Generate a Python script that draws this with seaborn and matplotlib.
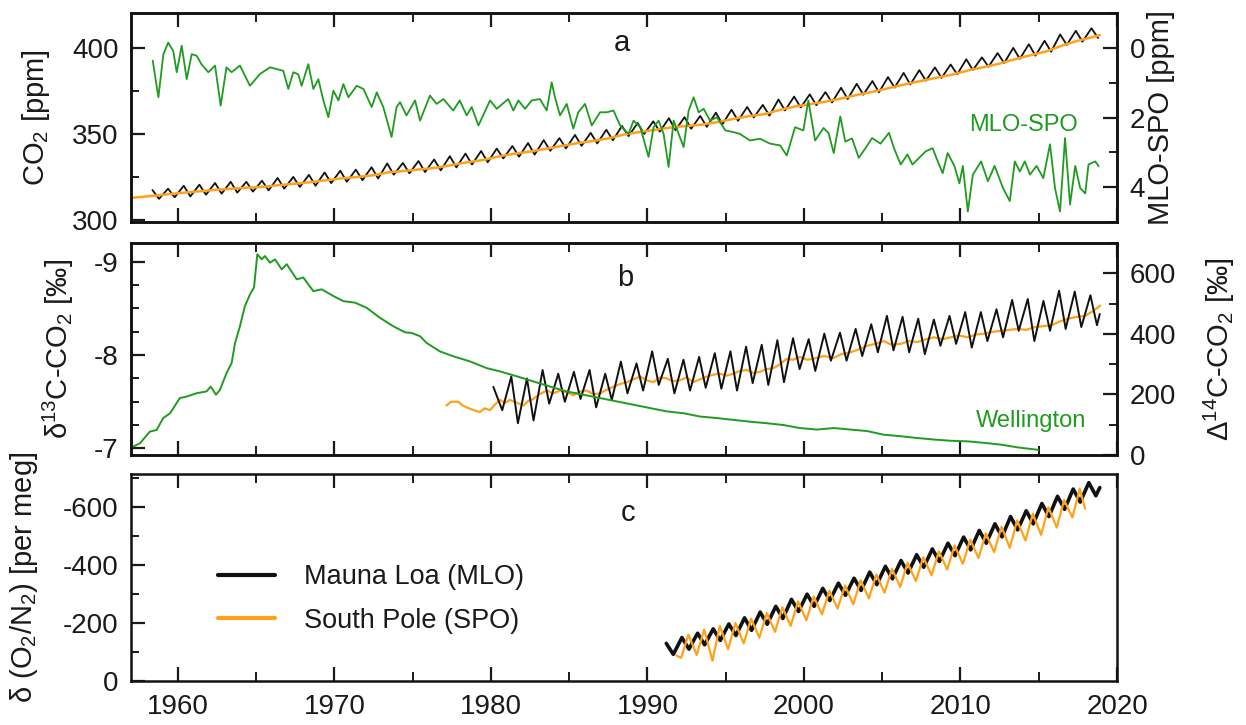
import numpy as np
import pandas as pd
import matplotlib
matplotlib.use("Agg")
import matplotlib.pyplot as plt
import seaborn as sns
from matplotlib.ticker import MultipleLocator
from matplotlib.lines import Line2D

# ---------------- DATA ----------------
# Panel a: Mauna Loa CO2, seasonal maxima (May) and minima (Oct), 1958-2018
mlo_co2_years = list(range(1958, 2019))
mlo_co2_may = [317.5, 318.3, 320.0, 320.6, 321.6, 322.3, 322.3, 322.9, 324.5, 325.1,
               326.3, 327.7, 328.7, 329.3, 330.7, 332.9, 333.2, 334.3, 335.2, 337.1,
               338.6, 340.1, 341.5, 343.0, 344.7, 346.4, 347.6, 349.4, 350.6, 352.4,
               354.6, 356.3, 357.3, 359.1, 359.7, 360.4, 362.3, 364.0, 365.6, 366.8,
               369.9, 371.6, 372.9, 374.2, 376.7, 379.0, 380.6, 382.9, 385.3, 386.9,
               388.5, 390.2, 393.2, 394.3, 396.8, 399.8, 401.9, 403.9, 407.6, 409.7, 411.2]
mlo_co2_oct = [312.4, 313.3, 313.8, 314.8, 315.4, 316.0, 316.6, 317.3, 318.3, 319.3,
               320.0, 321.5, 322.3, 323.2, 324.2, 326.4, 327.2, 327.9, 328.9, 330.6,
               332.3, 333.6, 335.8, 336.8, 338.0, 340.2, 341.6, 343.1, 344.5, 346.3,
               348.7, 350.0, 351.3, 352.2, 353.0, 354.1, 355.6, 357.6, 359.5, 360.6,
               363.6, 365.3, 366.6, 368.2, 370.2, 372.7, 374.1, 376.8, 378.6, 380.8,
               382.4, 384.5, 387.0, 388.9, 391.0, 393.5, 395.3, 397.6, 401.5, 403.4, 405.5]

# South Pole CO2, annual values 1957-2018 (plus record start / end)
spo_co2_years = list(range(1957, 2019))
spo_co2 = [313.4, 314.2, 315.2, 316.1, 316.9, 317.7, 318.3, 318.9, 319.4, 320.4,
           321.2, 322.1, 323.2, 324.3, 325.1, 326.1, 327.8, 328.6, 329.5, 330.4,
           332.0, 333.6, 334.9, 337.0, 338.5, 339.8, 341.3, 343.0, 344.6, 345.9,
           347.4, 349.6, 351.1, 352.4, 353.7, 354.6, 355.4, 356.9, 358.7, 360.3,
           361.5, 364.0, 366.0, 367.4, 368.9, 370.7, 372.8, 374.6, 376.7, 378.8,
           380.7, 382.6, 384.4, 386.8, 388.7, 390.7, 393.3, 395.6, 397.8, 401.2,
           403.9, 406.2]
spo_co2_start = (1957.05, 313.0)
spo_co2_end = (2018.9, 407.2)

# MLO-SPO difference [ppm]
mlo_spo_t = [1958.39, 1958.75, 1959.07, 1959.38, 1959.70, 1959.92, 1960.24, 1960.56, 1960.88, 1961.20,
             1961.50, 1961.94, 1962.37, 1962.73, 1963.10, 1963.43, 1963.96, 1964.60, 1965.24, 1965.88,
             1966.73, 1967.05, 1967.37, 1967.69, 1967.90, 1968.33, 1968.65, 1968.97, 1969.29, 1969.61,
             1969.93, 1970.25, 1970.57, 1970.89, 1971.42, 1971.85, 1972.38, 1972.70, 1973.12, 1973.65,
             1973.97, 1974.19, 1974.60, 1975.15, 1975.47, 1976.10, 1976.53, 1976.96, 1977.59, 1978.00,
             1978.45, 1978.77, 1979.20, 1979.94, 1980.37, 1981.10, 1981.43, 1981.75, 1982.18, 1982.60,
             1983.13, 1983.56, 1983.88, 1984.09, 1984.41, 1984.84, 1985.26, 1985.58, 1986.01, 1986.44,
             1986.97, 1987.40, 1987.83, 1988.25, 1988.79, 1989.11, 1989.54, 1990.07, 1990.39, 1990.71,
             1991.03, 1991.35, 1991.67, 1991.99, 1992.31, 1992.63, 1992.95, 1993.27, 1993.59, 1994.00,
             1994.44, 1994.97, 1995.50, 1995.90, 1996.55, 1997.19, 1997.83, 1998.47, 1998.90, 1999.43,
             1999.96, 2000.28, 2000.71, 2001.25, 2001.57, 2001.90, 2002.32, 2002.64, 2003.07, 2003.50,
             2003.93, 2004.35, 2004.89, 2005.43, 2005.75, 2006.18, 2006.61, 2006.93, 2007.36, 2007.78,
             2008.22, 2008.54, 2008.86, 2009.18, 2009.61, 2009.93, 2010.15, 2010.47, 2010.79, 2011.32,
             2011.75, 2012.18, 2012.72, 2013.15, 2013.47, 2013.79, 2014.11, 2014.44, 2014.86, 2015.29,
             2015.72, 2016.04, 2016.36, 2016.68, 2017.00, 2017.33, 2017.65, 2017.97, 2018.18, 2018.61,
             2018.83]
mlo_spo_v = [0.37, 1.42, 0.18, -0.15, 0.09, 0.70, -0.06, 0.90, 0.18, 0.23,
             0.47, 0.70, 0.51, 1.66, 0.56, 0.70, 0.51, 1.09, 0.75, 0.56,
             0.66, 1.18, 0.70, 0.76, 1.09, 0.47, 1.18, 0.90, 1.51, 1.99,
             1.23, 1.51, 1.04, 1.42, 1.09, 1.18, 1.70, 1.28, 1.70, 2.56,
             1.70, 1.56, 1.94, 1.51, 2.09, 1.37, 1.61, 1.47, 1.80, 1.51,
             1.94, 1.70, 2.23, 1.51, 1.75, 1.47, 1.80, 1.51, 1.75, 1.51,
             1.47, 1.80, 0.99, 1.42, 1.94, 1.61, 2.32, 1.85, 1.61, 2.23,
             1.85, 1.85, 1.80, 2.23, 2.47, 2.09, 2.28, 3.13, 2.28, 2.09,
             2.47, 3.42, 2.09, 2.47, 2.85, 1.80, 1.42, 1.85, 1.75, 2.09,
             1.99, 2.37, 2.42, 2.47, 2.66, 2.61, 2.75, 2.80, 3.09, 2.28,
             2.37, 1.51, 2.66, 2.30, 2.45, 3.02, 1.97, 2.69, 2.60, 3.16,
             2.88, 2.59, 2.75, 2.44, 2.88, 3.35, 3.06, 3.35, 3.16, 2.97,
             2.88, 3.25, 3.60, 3.02, 3.39, 3.89, 3.39, 4.70, 3.64, 3.26,
             3.83, 3.39, 4.03, 4.40, 3.26, 3.55, 3.26, 3.64, 3.39, 3.74,
             2.77, 4.03, 4.70, 2.59, 4.50, 3.39, 4.03, 4.18, 3.35, 3.26,
             3.40]

# Panel b: Wellington D14C [permil]
wlg_t = [1957.15, 1957.58, 1958.20, 1958.64, 1959.06, 1959.50, 1960.12, 1960.56, 1961.20, 1961.83,
         1962.09, 1962.43, 1962.68, 1963.11, 1963.43, 1963.65, 1963.96, 1964.28, 1964.60, 1964.86,
         1965.07, 1965.35, 1965.56, 1965.88, 1966.20, 1966.63, 1966.95, 1967.59, 1968.01, 1968.65,
         1969.18, 1969.93, 1970.57, 1971.31, 1972.06, 1972.91, 1973.76, 1974.51, 1974.93, 1975.47,
         1975.89, 1976.74, 1977.59, 1978.66, 1979.72, 1980.58, 1981.64, 1982.70, 1983.77, 1984.83,
         1985.90, 1986.97, 1988.03, 1989.10, 1990.16, 1991.23, 1992.29, 1993.36, 1994.42, 1995.48,
         1996.55, 1997.61, 1998.68, 1999.74, 2000.82, 2001.90, 2002.96, 2004.04, 2005.10, 2006.18,
         2007.25, 2008.32, 2009.39, 2010.47, 2011.54, 2012.61, 2013.68, 2014.97]
wlg_d14c = [28, 39, 77, 83, 122, 138, 188, 193, 204, 210,
            226, 199, 215, 271, 304, 370, 425, 492, 530, 553,
            663, 646, 657, 635, 646, 613, 630, 580, 586, 541,
            547, 525, 508, 503, 486, 453, 425, 405, 403, 392,
            370, 342, 326, 309, 287, 276, 260, 243, 226, 210,
            199, 188, 177, 166, 155, 144, 138, 127, 122, 116,
            110, 105, 99, 89, 84, 89, 84, 79, 67, 62,
            56, 51, 47, 45, 40, 34, 25, 17]

# MLO d13C [permil]: seasonal most negative (1981-2018) and least negative (1980-2018)
d13c_mlo_neg_years = list(range(1981, 2019))
d13c_mlo_neg = [-7.77, -7.75, -7.84, -7.80, -7.82, -7.84, -7.80, -7.93, -7.91, -8.04,
                -7.96, -7.95, -7.98, -8.02, -8.04, -8.09, -8.11, -8.16, -8.18, -8.17,
                -8.23, -8.24, -8.28, -8.33, -8.42, -8.41, -8.39, -8.38, -8.42, -8.46,
                -8.46, -8.49, -8.59, -8.60, -8.58, -8.69, -8.68, -8.64]
d13c_mlo_pos_years = list(range(1980, 2019))
d13c_mlo_pos = [-7.41, -7.27, -7.30, -7.48, -7.50, -7.53, -7.44, -7.52, -7.59, -7.62,
                -7.68, -7.59, -7.62, -7.65, -7.64, -7.62, -7.70, -7.68, -7.71, -7.85,
                -7.83, -7.94, -7.94, -7.99, -8.03, -8.05, -8.03, -8.01, -8.10, -8.12,
                -8.08, -8.15, -8.19, -8.26, -8.15, -8.26, -8.28, -8.30, -8.32]
d13c_mlo_start = (1980.15, -7.66)
d13c_mlo_end = (2018.9, -8.44)

# SPO d13C [permil]
d13c_spo_t = [1977.15, 1977.45, 1977.90, 1978.20, 1978.44, 1978.90, 1979.29, 1979.60, 1979.94, 1980.25,
              1980.58, 1980.90, 1981.22, 1981.65, 1982.07, 1982.40, 1982.70, 1983.10, 1983.56, 1984.00,
              1984.41, 1984.85, 1985.26, 1985.70, 1986.12, 1986.55, 1986.97, 1987.40, 1987.82, 1988.25,
              1988.68, 1989.10, 1989.53, 1989.95, 1990.38, 1990.80, 1991.23, 1991.65, 1992.08, 1992.50,
              1992.93, 1993.35, 1993.79, 1994.20, 1994.64, 1995.05, 1995.49, 1995.90, 1996.34, 1996.75,
              1997.19, 1997.60, 1998.04, 1998.45, 1998.90, 1999.30, 1999.75, 2000.20, 2000.60, 2001.25,
              2001.90, 2002.40, 2002.96, 2003.50, 2004.04, 2004.55, 2005.10, 2005.60, 2006.18, 2006.70,
              2007.25, 2007.80, 2008.32, 2008.85, 2009.39, 2009.90, 2010.47, 2011.00, 2011.54, 2012.10,
              2012.61, 2013.15, 2013.68, 2014.20, 2014.75, 2015.30, 2015.82, 2016.35, 2016.90, 2017.45,
              2017.97, 2018.45, 2018.93]
d13c_spo = [-7.46, -7.50, -7.50, -7.46, -7.44, -7.41, -7.39, -7.43, -7.41, -7.47,
            -7.52, -7.49, -7.52, -7.49, -7.46, -7.51, -7.53, -7.58, -7.62, -7.59,
            -7.62, -7.60, -7.57, -7.61, -7.62, -7.58, -7.59, -7.63, -7.66, -7.69,
            -7.71, -7.74, -7.77, -7.73, -7.71, -7.76, -7.75, -7.72, -7.73, -7.76,
            -7.71, -7.74, -7.77, -7.79, -7.80, -7.78, -7.80, -7.83, -7.84, -7.81,
            -7.82, -7.85, -7.86, -7.90, -7.96, -7.95, -7.98, -7.95, -7.96, -7.99,
            -7.97, -8.01, -8.03, -8.06, -8.10, -8.12, -8.15, -8.11, -8.12, -8.15,
            -8.14, -8.17, -8.19, -8.17, -8.19, -8.21, -8.19, -8.22, -8.23, -8.25,
            -8.26, -8.27, -8.28, -8.27, -8.30, -8.31, -8.32, -8.36, -8.39, -8.41,
            -8.42, -8.47, -8.53]

# Panel c: d(O2/N2) [per meg]
o2_mlo_years = list(range(1992, 2019))
o2_mlo_low = [-150, -165, -180, -197, -218, -238, -258, -282, -300, -320,
              -338, -355, -376, -396, -416, -436, -456, -476, -497, -520,
              -543, -568, -588, -613, -638, -663, -685]
o2_mlo_high_years = list(range(1991, 2019))
o2_mlo_high = [-92, -110, -125, -140, -157, -175, -196, -216, -240, -258,
               -278, -296, -313, -333, -353, -373, -393, -413, -433, -453,
               -476, -498, -522, -543, -568, -593, -618, -640]
o2_mlo_start = (1991.2, -130)
o2_mlo_end = (2018.9, -668)

o2_spo_years = list(range(1992, 2018))
o2_spo_high = [-80, -90, -70, -110, -130, -150, -170, -190, -210, -230,
               -250, -265, -285, -305, -325, -345, -365, -385, -405, -425,
               -445, -460, -485, -505, -530, -565]
o2_spo_low = [-160, -178, -190, -200, -215, -235, -255, -275, -292, -312,
              -330, -348, -368, -388, -408, -428, -448, -468, -488, -510,
              -533, -555, -578, -600, -625, -664]
o2_spo_start = (1991.85, -88)
o2_spo_end = (2017.96, -595)

# ---------------- STYLE ----------------
sns.set_theme(style="ticks")
plt.rcParams["font.family"] = ["Liberation Sans", "DejaVu Sans"]
plt.rcParams["mathtext.fontset"] = "custom"
plt.rcParams["mathtext.rm"] = "Liberation Sans"
plt.rcParams["mathtext.it"] = "Liberation Sans:italic"
plt.rcParams["mathtext.bf"] = "Liberation Sans:bold"
plt.rcParams["axes.unicode_minus"] = False

BLACK = "#111111"
ORANGE = "#ffa21a"
GREEN = "#1f9b1f"
TXT = "#1a1a1a"
TICK_FS = 20
LAB_FS = 21


def line(ax, df, color, lw):
    sns.lineplot(data=df, x="t", y="v", ax=ax, color=color, linewidth=lw,
                 legend=False, estimator=None, sort=True)


def style_axes(ax, xlabels):
    ax.set_xlim(1957, 2020)
    ax.xaxis.set_major_locator(MultipleLocator(10))
    ax.xaxis.set_minor_locator(MultipleLocator(5))
    ax.tick_params(axis="x", which="both", direction="in", top=True, bottom=True,
                   labelbottom=xlabels, labelsize=TICK_FS, pad=9, colors=TXT)
    ax.tick_params(axis="x", which="major", length=10, width=1.6)
    ax.tick_params(axis="x", which="minor", length=6.5, width=1.4)
    ax.tick_params(axis="y", which="both", direction="in", left=True, right=False,
                   labelsize=TICK_FS, pad=9, colors=TXT)
    ax.tick_params(axis="y", which="major", length=10, width=1.6)
    ax.tick_params(axis="y", which="minor", length=6, width=1.4)
    for s in ax.spines.values():
        s.set_linewidth(1.8)
        s.set_color("#111111")
    ax.set_xlabel("")


def style_right(ax):
    ax.tick_params(axis="y", which="both", direction="in", left=False, right=True,
                   labelsize=TICK_FS, pad=9, colors=TXT)
    ax.tick_params(axis="y", which="major", length=10, width=1.6)
    ax.tick_params(axis="y", which="minor", length=6, width=1.4)
    for s in ax.spines.values():
        s.set_linewidth(1.8)
        s.set_color("#111111")
    ax.set_xlabel("")


W, H = 1246, 725
fig = plt.figure(figsize=(W / 100, H / 100), dpi=100)
L, R = 131, 1117
axa = fig.add_axes([L / W, 1 - 222 / H, (R - L) / W, 209 / H])
axb = fig.add_axes([L / W, 1 - 455 / H, (R - L) / W, 212 / H])
axc = fig.add_axes([L / W, 1 - 681 / H, (R - L) / W, 207 / H])

# ---------- panel a ----------
df_mlo = pd.DataFrame(
    [(y + 0.37, v) for y, v in zip(mlo_co2_years, mlo_co2_may)]
    + [(y + 0.79, v) for y, v in zip(mlo_co2_years, mlo_co2_oct)],
    columns=["t", "v"]).sort_values("t")
df_spo = pd.DataFrame([spo_co2_start] + [(y + 0.5, v) for y, v in zip(spo_co2_years, spo_co2)]
                      + [spo_co2_end], columns=["t", "v"])
line(axa, df_mlo, BLACK, 1.3)
line(axa, df_spo, ORANGE, 1.8)
style_axes(axa, False)
axa.set_ylim(299, 420)
axa.yaxis.set_major_locator(MultipleLocator(50))
axa.yaxis.set_minor_locator(MultipleLocator(25))
axa.set_ylabel("CO$_2$ [ppm]", fontsize=LAB_FS, color=TXT, va="center", ha="center")
axa.yaxis.set_label_coords(-0.096, 0.5)

axa2 = axa.twinx()
df_diff = pd.DataFrame({"t": mlo_spo_t, "v": mlo_spo_v})
line(axa2, df_diff, GREEN, 1.3)
axa2.set_ylim(5, -1)
axa2.yaxis.set_major_locator(MultipleLocator(2))
axa2.yaxis.set_minor_locator(MultipleLocator(1))
style_right(axa2)
axa2.set_ylabel("MLO-SPO [ppm]", fontsize=LAB_FS, color=TXT, va="center", ha="center",
                rotation=90)
axa2.yaxis.set_label_coords(1.045, 0.5)
axa.text(0.498, 0.855, "a", transform=axa.transAxes, fontsize=21, color=TXT,
         ha="center", va="center")
axa2.text(0.905, 0.465, "MLO-SPO", transform=axa.transAxes, fontsize=17, color=GREEN,
          ha="center", va="center")

# ---------- panel b ----------
df_d13_mlo = pd.DataFrame(
    [d13c_mlo_start]
    + [(y + 0.30, v) for y, v in zip(d13c_mlo_neg_years, d13c_mlo_neg)]
    + [(y + 0.72, v) for y, v in zip(d13c_mlo_pos_years, d13c_mlo_pos)]
    + [d13c_mlo_end], columns=["t", "v"]).sort_values("t")
df_d13_spo = pd.DataFrame({"t": d13c_spo_t, "v": d13c_spo})
line(axb, df_d13_spo, ORANGE, 1.6)
line(axb, df_d13_mlo, BLACK, 1.4)
style_axes(axb, False)
axb.set_ylim(-6.93, -9.2)
axb.yaxis.set_major_locator(MultipleLocator(1))
axb.yaxis.set_minor_locator(MultipleLocator(0.25))
axb.set_ylabel("δ$^{13}$C-CO$_2$ [‰]", fontsize=LAB_FS, color=TXT, va="center", ha="center")
axb.yaxis.set_label_coords(-0.074, 0.5)

axb2 = axb.twinx()
df_wlg = pd.DataFrame({"t": wlg_t, "v": wlg_d14c})
line(axb2, df_wlg, GREEN, 1.4)
axb2.set_ylim(0, 700)
axb2.yaxis.set_major_locator(MultipleLocator(200))
axb2.yaxis.set_minor_locator(MultipleLocator(100))
style_right(axb2)
axb2.set_ylabel("Δ$^{14}$C-CO$_2$ [‰]", fontsize=LAB_FS, color=TXT, va="center", ha="center",
                rotation=90)
axb2.yaxis.set_label_coords(1.104, 0.5)
axb.text(0.501, 0.835, "b", transform=axb.transAxes, fontsize=21, color=TXT,
         ha="center", va="center")
axb2.text(0.913, 0.16, "Wellington", transform=axb.transAxes, fontsize=17, color=GREEN,
          ha="center", va="center")

# ---------- panel c ----------
df_o2_mlo = pd.DataFrame(
    [o2_mlo_start]
    + [(y + 0.20, v) for y, v in zip(o2_mlo_years, o2_mlo_low)]
    + [(y + 0.65, v) for y, v in zip(o2_mlo_high_years, o2_mlo_high)]
    + [o2_mlo_end], columns=["t", "v"]).sort_values("t")
df_o2_spo = pd.DataFrame(
    [o2_spo_start]
    + [(y + 0.15, v) for y, v in zip(o2_spo_years, o2_spo_high)]
    + [(y + 0.62, v) for y, v in zip(o2_spo_years, o2_spo_low)]
    + [o2_spo_end], columns=["t", "v"]).sort_values("t")
line(axc, df_o2_mlo, BLACK, 2.6)
line(axc, df_o2_spo, ORANGE, 1.6)
style_axes(axc, True)
axc.set_ylim(0, -715)
axc.yaxis.set_major_locator(MultipleLocator(200))
axc.yaxis.set_minor_locator(MultipleLocator(100))
axc.set_ylabel("δ (O$_2$/N$_2$) [per meg]", fontsize=LAB_FS, color=TXT, va="center", ha="center")
axc.yaxis.set_label_coords(-0.109, 0.5)
axc.text(0.504, 0.81, "c", transform=axc.transAxes, fontsize=21, color=TXT,
         ha="center", va="center")

handles = [Line2D([], [], color=BLACK, lw=3), Line2D([], [], color=ORANGE, lw=3)]
axc.legend(handles, ["Mauna Loa (MLO)", "South Pole (SPO)"], loc="upper left",
           bbox_to_anchor=(0.088, 0.565), frameon=False, fontsize=19.5,
           handlelength=2.1, handletextpad=1.1, labelspacing=0.65,
           borderaxespad=0, borderpad=0, labelcolor=TXT)

fig.savefig("out.png", dpi=100)
